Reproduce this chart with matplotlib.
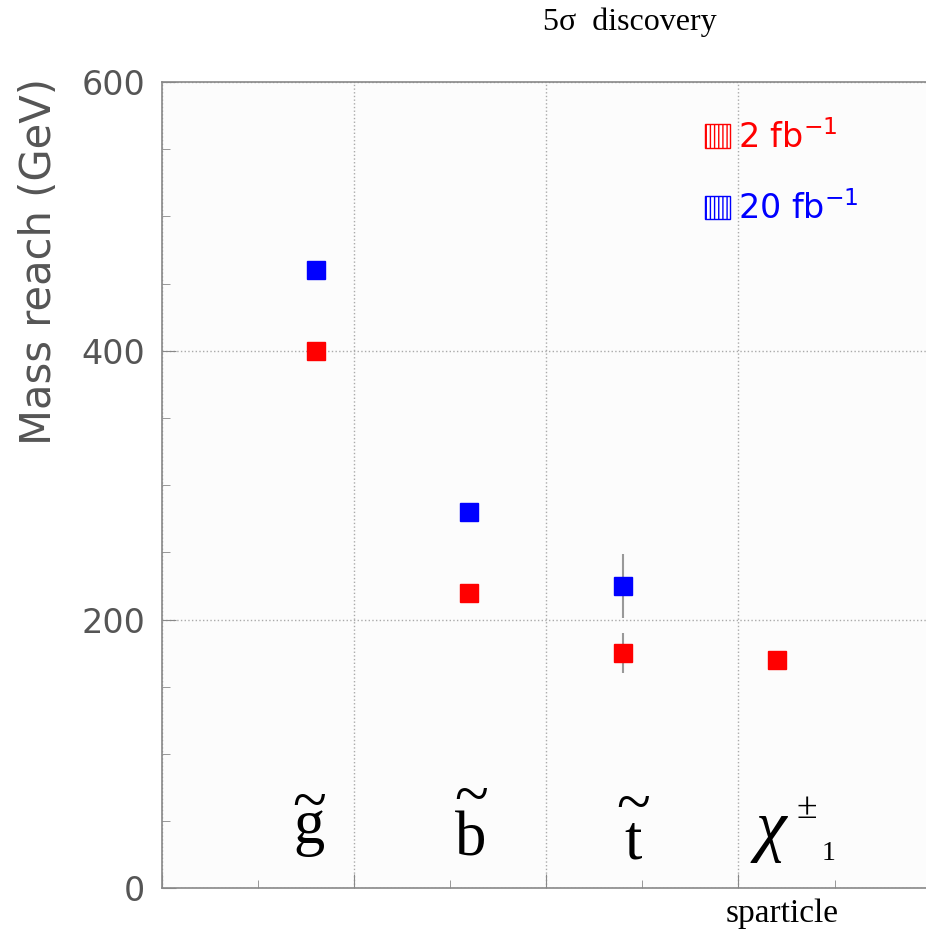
import matplotlib.pyplot as plt
from matplotlib.patches import Patch
from matplotlib.ticker import MultipleLocator

# sparticle positions on the x axis and the mass reach for each luminosity
x_pos = [0.8, 1.6, 2.4, 3.2]
reach_2fb = [400, 220, 175, 170]
err_2fb = [0, 0, 15, 0]
x_20fb = [0.8, 1.6, 2.4]
reach_20fb = [460, 280, 225]
err_20fb = [0, 0, 24]

# particle letters drawn under the points, tilde on a line above
letters = ['g', 'b', 't']
letter_x = [0.764, 1.607, 2.45]
letter_base = [34, 24.5, 22]
tilde_gap = [0.16, 0.59, 0.50]

grey = '#555555'
serif = 'Liberation Serif'

fig = plt.figure(figsize=(9.26, 9.33), dpi=100)
ax = fig.add_axes([0.175, 0.048, 0.83, 0.864])
ax.set_facecolor('#fcfcfc')

ax.errorbar(x_pos, reach_2fb, yerr=err_2fb, fmt='s', color='red', ms=13,
            ecolor='#999999', elinewidth=1.5, capsize=0, zorder=3)
ax.errorbar(x_20fb, reach_20fb, yerr=err_20fb, fmt='s', color='blue', ms=13,
            ecolor='#999999', elinewidth=1.5, capsize=0, zorder=3)

ax.set_xlim(0, 4)
ax.set_ylim(0, 600)
ax.xaxis.set_major_locator(MultipleLocator(1))
ax.xaxis.set_minor_locator(MultipleLocator(0.5))
ax.yaxis.set_major_locator(MultipleLocator(200))
ax.yaxis.set_minor_locator(MultipleLocator(50))
ax.tick_params(which='both', direction='in', color='#888888', top=False, right=False)
ax.tick_params(which='major', length=10)
ax.tick_params(which='minor', length=6)
ax.tick_params(axis='x', labelbottom=False)
ax.tick_params(axis='y', labelsize=24, labelcolor=grey, pad=12)
ax.grid(True, which='major', linestyle=':', color='#aaaaaa', linewidth=1)
for s in ax.spines.values():
    s.set_color('#888888')
    s.set_linewidth(1.2)

ax.set_ylabel('Mass reach (GeV)', fontsize=30, color=grey)
ax.yaxis.set_label_coords(-0.133, 0.777)

# sparticle symbols: letter with a tilde on top (one text each)
for lab, lx, ly, gap in zip(letters, letter_x, letter_base, tilde_gap):
    ax.text(lx, ly, '~\n' + lab, fontsize=45, family=serif, ha='center',
            va='baseline', linespacing=gap)
ax.text(3.17, 30, 'χ', fontsize=50, family=serif, style='italic', ha='center', va='baseline')
ax.text(3.354, 52, '±', fontsize=27, family=serif, ha='center', va='baseline')
ax.text(3.47, 21, '1', fontsize=20, family=serif, ha='center', va='baseline')

handles = [Patch(facecolor='white', edgecolor='red', hatch='||||', label=r'2 fb$^{-1}$'),
           Patch(facecolor='white', edgecolor='blue', hatch='||||', label=r'20 fb$^{-1}$')]
leg = ax.legend(handles=handles, loc='upper left', bbox_to_anchor=(0.706, 0.953), frameon=False,
                handlelength=0.75, handleheight=0.7, handletextpad=0.25, borderpad=0,
                borderaxespad=0, labelspacing=1.1, prop={'family': 'DejaVu Sans', 'size': 24})
for t, c in zip(leg.get_texts(), ['red', 'blue']):
    t.set_color(c)

fig.text(0.680, 0.976, '5σ  discovery', fontsize=23, family=serif, ha='center', va='center')
fig.text(0.845, 0.021, 'sparticle', fontsize=24, family=serif, ha='center', va='center')

fig.savefig('out.png', dpi=100)
